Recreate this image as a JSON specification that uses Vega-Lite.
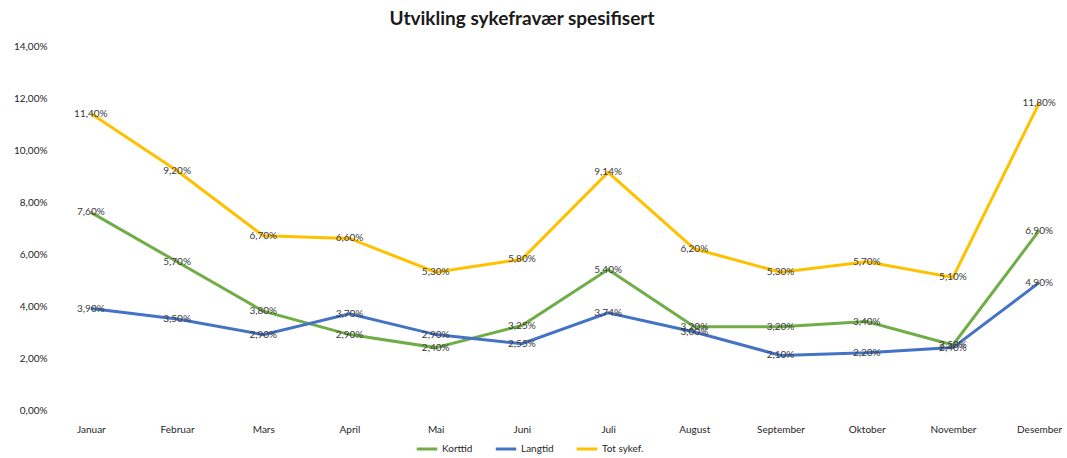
{
  "$schema": "https://vega.github.io/schema/vega-lite/v6.json",
  "width": 1000,
  "height": 364,
  "autosize": "none",
  "padding": {"left": 65, "top": 46, "right": 2, "bottom": 48},
  "background": "white",
  "title": {"text": "Utvikling sykefravær spesifisert", "font": "Lato", "fontSize": 19, "fontWeight": "bold", "color": "#1a1a1a", "offset": 12, "dx": -43},
  "config": {
    "locale": {"number": {"decimal": ",", "thousands": " ", "grouping": [3], "currency": ["", " kr"]}},
    "view": {"stroke": null},
    "font": "Lato"
  },
  "data": {"values": [
    {"m": "Januar", "s": "Korttid", "v": 0.076},
    {"m": "Februar", "s": "Korttid", "v": 0.057},
    {"m": "Mars", "s": "Korttid", "v": 0.038},
    {"m": "April", "s": "Korttid", "v": 0.029},
    {"m": "Mai", "s": "Korttid", "v": 0.024},
    {"m": "Juni", "s": "Korttid", "v": 0.0325},
    {"m": "Juli", "s": "Korttid", "v": 0.054},
    {"m": "August", "s": "Korttid", "v": 0.032},
    {"m": "September", "s": "Korttid", "v": 0.032},
    {"m": "Oktober", "s": "Korttid", "v": 0.034},
    {"m": "November", "s": "Korttid", "v": 0.025},
    {"m": "Desember", "s": "Korttid", "v": 0.069},
    {"m": "Januar", "s": "Langtid", "v": 0.039},
    {"m": "Februar", "s": "Langtid", "v": 0.035},
    {"m": "Mars", "s": "Langtid", "v": 0.029},
    {"m": "April", "s": "Langtid", "v": 0.037},
    {"m": "Mai", "s": "Langtid", "v": 0.029},
    {"m": "Juni", "s": "Langtid", "v": 0.0255},
    {"m": "Juli", "s": "Langtid", "v": 0.0374},
    {"m": "August", "s": "Langtid", "v": 0.030},
    {"m": "September", "s": "Langtid", "v": 0.021},
    {"m": "Oktober", "s": "Langtid", "v": 0.022},
    {"m": "November", "s": "Langtid", "v": 0.024},
    {"m": "Desember", "s": "Langtid", "v": 0.049},
    {"m": "Januar", "s": "Tot sykef.", "v": 0.114},
    {"m": "Februar", "s": "Tot sykef.", "v": 0.092},
    {"m": "Mars", "s": "Tot sykef.", "v": 0.067},
    {"m": "April", "s": "Tot sykef.", "v": 0.066},
    {"m": "Mai", "s": "Tot sykef.", "v": 0.053},
    {"m": "Juni", "s": "Tot sykef.", "v": 0.058},
    {"m": "Juli", "s": "Tot sykef.", "v": 0.0914},
    {"m": "August", "s": "Tot sykef.", "v": 0.062},
    {"m": "September", "s": "Tot sykef.", "v": 0.053},
    {"m": "Oktober", "s": "Tot sykef.", "v": 0.057},
    {"m": "November", "s": "Tot sykef.", "v": 0.051},
    {"m": "Desember", "s": "Tot sykef.", "v": 0.118}
  ]},
  "encoding": {
    "x": {"field": "m", "type": "ordinal", "sort": null,
      "scale": {"type": "point", "padding": 0.3},
      "axis": {"title": null, "labelAngle": 0, "ticks": false, "domain": false, "labelFontSize": 10, "labelColor": "#262626", "labelPadding": 14, "grid": false}},
    "y": {"field": "v", "type": "quantitative",
      "scale": {"domain": [0, 0.14], "nice": false},
      "axis": {"title": null, "format": ".2%", "values": [0, 0.02, 0.04, 0.06, 0.08, 0.1, 0.12, 0.14], "ticks": false, "domain": false, "grid": false, "labelFontSize": 10, "labelColor": "#262626", "labelPadding": 18}}
  },
  "layer": [
    {
      "mark": {"type": "line", "strokeWidth": 3},
      "encoding": {
        "color": {"field": "s", "type": "nominal",
          "scale": {"domain": ["Korttid", "Langtid", "Tot sykef."], "range": ["#70AD47", "#4472C4", "#FFC000"]},
          "legend": {"title": null, "orient": "none", "legendX": 350, "legendY": 391, "direction": "horizontal", "symbolType": "stroke", "symbolStrokeWidth": 3, "symbolSize": 420, "labelFontSize": 10, "labelColor": "#262626", "columnPadding": 16, "labelOffset": 3}}
      }
    },
    {
      "mark": {"type": "text", "fontSize": 10, "color": "#3a3a3a", "align": "center", "baseline": "middle"},
      "encoding": {"text": {"field": "v", "type": "quantitative", "format": ".2%"}}
    }
  ]
}
